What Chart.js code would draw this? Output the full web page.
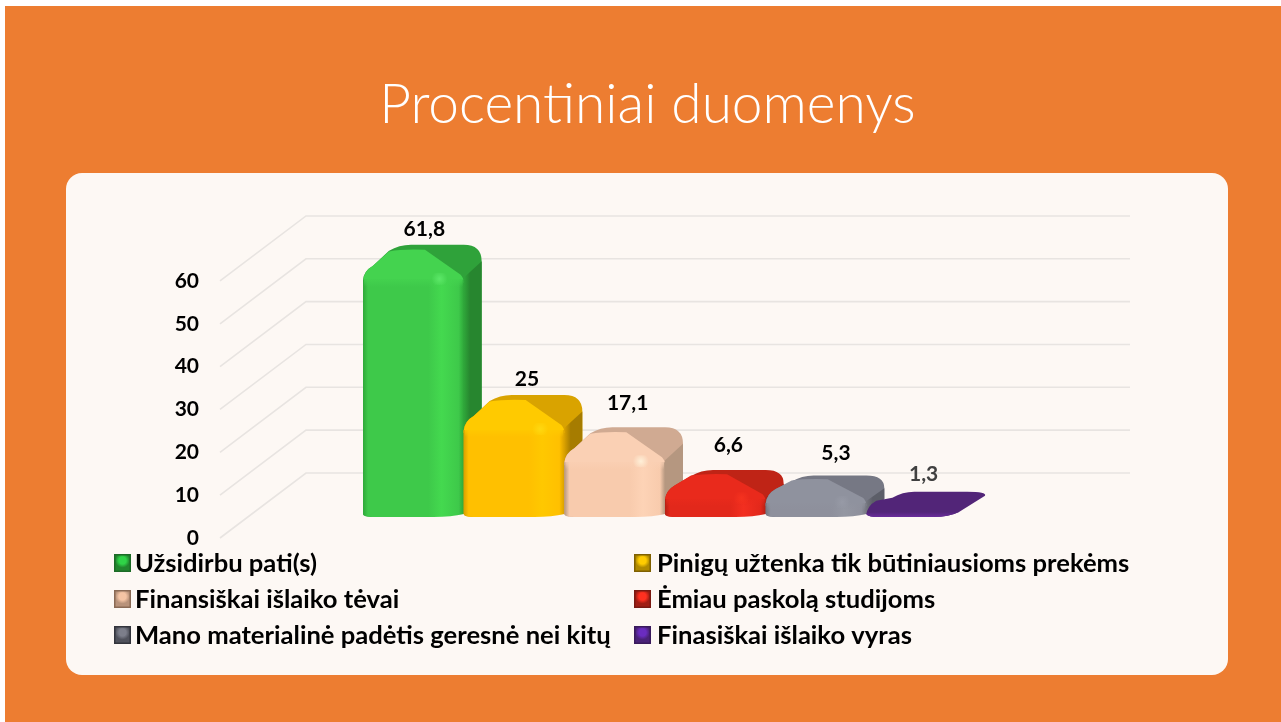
<!DOCTYPE html>
<html lang="lt"><head><meta charset="utf-8">
<script src="https://cdn.jsdelivr.net/npm/chart.js@4"></script>
<style>
html,body{margin:0;padding:0;background:#fff;width:1281px;height:722px;overflow:hidden}
#slide{position:absolute;left:5px;top:6px;right:0;bottom:0;background:#ED7D31}
#card{position:absolute;left:66px;top:173px;width:1162px;height:502px;border-radius:16px;background:#FDF8F4}
#wrap{position:absolute;left:0;top:0;width:1281px;height:722px}
</style></head><body>
<div id="slide"></div><div id="card"></div>
<div id="wrap"><canvas id="c" width="1281" height="722"></canvas></div>
<script>
const titleText = 'Procentiniai duomenys';
const categories = ['Užsidirbu pati(s)','Pinigų užtenka tik būtiniausioms prekėms','Finansiškai išlaiko tėvai','Ėmiau paskolą studijoms','Mano materialinė padėtis geresnė nei kitų','Finasiškai išlaiko vyras'];
const values = [61.8,25,17.1,6.6,5.3,1.3];
const yTicks = [0,10,20,30,40,50,60];

// styles: front, front highlight, lit top, back top, side
const frontColors = ['#3ec94a','#ffc000','#f8cbad','#e2281b','#8e909c','#6a2c9c'];
const shineColors = ['#44d94f','#ffc800','#fdd3b6','#f32f20','#9497a2','#7030a0'];
const litColors   = ['#44d34f','#ffca00','#fad0b4','#e92a1c','#8f929e','#5a2785'];
const backColors  = ['#2fa23a','#d9a300','#d0aa92','#bf2416','#767884','#522578'];
const sideColors  = ['#27862f','#a67c00','#b59780','#9c1c12','#5c5e68','#522578'];
const edgeColors  = ['#2fa83a','#d9a000','#b59780','#b52014','#74767f','#522578'];
const hiColors    = ['#5ce868','#ffd810','#fff0d8','#f5321f','#979aa6','#5f2a90'];
const labelColors = ['#000','#000','#000','#000','#000','#404040'];
const labelNudgeX = [11,13,13,13,20,7];
const labelNudgeY = [-16,-16,-24,-25,-22,-17];
const swatchDark  = ['#1c6b26','#7f6000','#8a6a55','#7a1a12','#33343c','#3a1a5c'];
const swatchLite  = ['#22862e','#b08a00','#b8927a','#a01e14','#50525c','#4a2278'];
const swatchHi    = ['#2fd447','#ffcc00','#f4c4a4','#ff3020','#7c7e8a','#6a2cc0'];

const FONT = 'Lato';
const BASE_DEPTH = 20, BACK_LEFT = 42, BACK_RIGHT = 18;
const WALL_DX = 86, WALL_DY = 65, WALL_RIGHT = 1130, WALL_LEFT = 220;

function roofDrop(base, yb){ return Math.min(33, 14 + 0.28*(base-yb)); }

function draw3D(ctx, el, i){
  const x0 = el.x - el.width/2, x1 = el.x + el.width/2, base = el.base;
  const yb = el.y - BASE_DEPTH;                 // back edge of the top
  const yf = Math.min(yb + roofDrop(base,yb), base-3);  // front edge of the top
  const xbl = x0 + BACK_LEFT, xbr = x1 + BACK_RIGHT;
  const sideBottom = base - 18;
  const midY = yb+(yf-yb)*0.5;
  const low = base - yf < 10;
  ctx.save();

  // whole rear silhouette
  ctx.beginPath();
  ctx.moveTo(x0, yf+2);
  ctx.quadraticCurveTo(x0+1, yf-7, x0+10, yf-12);
  ctx.lineTo(xbl-16, yb+6);
  ctx.quadraticCurveTo(xbl-6, yb, xbl+6, yb);
  ctx.lineTo(xbr-18, yb);
  if (low) {
    ctx.quadraticCurveTo(xbr+2, yb, xbr, yb+4);
    ctx.lineTo(x1-8, base-5);
    ctx.quadraticCurveTo(x1-18, base, x1-34, base);
  } else {
    ctx.quadraticCurveTo(xbr, yb, xbr, midY);
    ctx.lineTo(xbr, Math.max(sideBottom, midY));
    ctx.lineTo(x1, base-3);
    ctx.lineTo(x0+10, base);
  }
  ctx.lineTo(x0+8, base);
  ctx.quadraticCurveTo(x0, base-1, x0, base-3);
  ctx.closePath();
  ctx.fillStyle = backColors[i];
  ctx.fill();

  if (low) {          // nearly flat bar: only a thin lit lip along the front
    const lg = ctx.createLinearGradient(0,base-5,0,base);
    lg.addColorStop(0, backColors[i]);
    lg.addColorStop(1, frontColors[i]);
    ctx.beginPath();
    ctx.moveTo(x0, base-4);
    ctx.quadraticCurveTo(x0+30, base-7, x1-8, base-5);
    ctx.quadraticCurveTo(x1-18, base, x1-34, base);
    ctx.lineTo(x0+8, base);
    ctx.quadraticCurveTo(x0, base-1, x0, base-4);
    ctx.closePath();
    ctx.fillStyle = lg;
    ctx.fill();
    ctx.restore();
    return;
  }

  // side face
  if (sideBottom > midY) {
    ctx.beginPath();
    ctx.moveTo(x1, yf);
    ctx.lineTo(xbr, midY);
    ctx.lineTo(xbr, sideBottom);
    ctx.lineTo(x1, base-3);
    ctx.closePath();
    const sg = ctx.createLinearGradient(x1,0,xbr,0);
    sg.addColorStop(0, edgeColors[i]);
    sg.addColorStop(0.35, sideColors[i]);
    sg.addColorStop(1, sideColors[i]);
    ctx.fillStyle = sg;
    ctx.fill();
  }

  // lit part of the top
  ctx.beginPath();
  ctx.moveTo(x0, yf+3);
  ctx.quadraticCurveTo(x0+1, yf-7, x0+10, yf-12);
  ctx.lineTo(x0+26, yb+(yf-yb)*0.2);
  ctx.quadraticCurveTo(x0+40, yb+(yf-yb)*0.12, x0+62, yb+(yf-yb)*0.15);
  ctx.lineTo(x1-3, yf-3);
  ctx.quadraticCurveTo(x1, yf, x1, yf+5);
  ctx.lineTo(x0, yf+5);
  ctx.closePath();
  ctx.fillStyle = litColors[i];
  ctx.fill();

  // front face
  ctx.beginPath();
  ctx.moveTo(x0, yf+2);
  ctx.lineTo(x1, yf+2);
  ctx.lineTo(x1, base-3);
  ctx.quadraticCurveTo(x1-12, base, x1-30, base);
  ctx.lineTo(x0+10, base);
  ctx.quadraticCurveTo(x0, base, x0, base-3);
  ctx.closePath();
  const fg = ctx.createLinearGradient(x0,0,x1,0);
  fg.addColorStop(0, edgeColors[i]);
  fg.addColorStop(0.05, frontColors[i]);
  fg.addColorStop(0.65, frontColors[i]);
  fg.addColorStop(0.78, shineColors[i]);
  fg.addColorStop(0.95, frontColors[i]);
  fg.addColorStop(1, edgeColors[i]);
  ctx.fillStyle = fg;
  ctx.fill();

  // rounded band from top to front, and the corner glint
  const bg = ctx.createLinearGradient(0,yf,0,yf+9);
  bg.addColorStop(0, litColors[i]);
  bg.addColorStop(1, litColors[i]+'00');
  ctx.fillStyle = bg;
  ctx.fillRect(x0+1, yf+2, el.width-2, Math.min(8, base-yf-4));
  const hx = x0 + el.width*0.76, hy = yf+1;
  const hg = ctx.createRadialGradient(hx,hy,0,hx,hy,8);
  hg.addColorStop(0, hiColors[i]);
  hg.addColorStop(1, hiColors[i]+'00');
  ctx.fillStyle = hg;
  ctx.fillRect(hx-9, hy-6, 18, 12);
  ctx.restore();
}

const bar3D = {
  id:'bar3D',
  afterDatasetsUpdate(chart){
    chart.getDatasetMeta(0).data.forEach((el,i)=>{ el.draw = function(ctx){ draw3D(ctx,this,i); }; });
  },
  beforeDatasetsDraw(chart){
    const ctx = chart.ctx, s = chart.scales.y;
    ctx.save();
    ctx.strokeStyle = '#E8E4E1'; ctx.lineWidth = 1.6;
    s.ticks.forEach(t=>{
      const y = s.getPixelForValue(t.value);
      ctx.beginPath();
      ctx.moveTo(WALL_LEFT, y);
      ctx.lineTo(WALL_LEFT+WALL_DX, y-WALL_DY);
      ctx.lineTo(WALL_RIGHT, y-WALL_DY);
      ctx.stroke();
    });
    ctx.restore();
  },
  afterDatasetsDraw(chart){
    const ctx = chart.ctx;
    ctx.save();
    ctx.font = 'bold 21px '+FONT;
    ctx.textAlign = 'center'; ctx.textBaseline = 'middle';
    chart.getDatasetMeta(0).data.forEach((el,i)=>{
      ctx.fillStyle = labelColors[i];
      ctx.fillText(String(values[i]).replace('.',','), el.x+labelNudgeX[i], el.y-BASE_DEPTH+labelNudgeY[i]);
    });
    ctx.restore();
    drawLegend(ctx);
  }
};

function drawSwatch(ctx,x,y,w,h,i){
  ctx.save();
  ctx.fillStyle = swatchDark[i]; ctx.fillRect(x,y,w,h);
  ctx.fillStyle = swatchLite[i]; ctx.fillRect(x+1.5,y+1.5,w-3,h-3);
  const cx=x+w/2, cy=y+h*0.36;
  const g=ctx.createRadialGradient(cx,cy,0,cx,cy,w*0.42);
  g.addColorStop(0,swatchHi[i]); g.addColorStop(0.5,swatchHi[i]); g.addColorStop(1,swatchHi[i]+'00');
  ctx.fillStyle=g; ctx.fillRect(x+1.5,y+1.5,w-3,h-3);
  ctx.restore();
}

function drawLegend(ctx){
  const colX=[114,634], textX=[135,657], rowY=[563,599,635], textY=[564,600,636];
  ctx.save();
  ctx.font = 'bold 25.6px '+FONT;
  ctx.textAlign='left'; ctx.textBaseline='middle'; ctx.fillStyle='#000';
  categories.forEach((c,i)=>{
    const col=i%2, row=Math.floor(i/2);
    drawSwatch(ctx,colX[col],rowY[row]-9,17,18,i);
    ctx.fillText(c,textX[col],textY[row]);
  });
  ctx.restore();
}

new Chart(document.getElementById('c'),{
  type:'bar',
  plugins:[bar3D],
  data:{labels:categories,datasets:[{data:values,yAxisID:'bars',backgroundColor:frontColors,barPercentage:1,categoryPercentage:1,clip:false}]},
  options:{
    responsive:false,animation:false,
    layout:{padding:{left:14,right:0,top:0,bottom:184}},
    plugins:{
      legend:{display:false},tooltip:{enabled:false},
      title:{display:true,text:titleText,color:'#fff',
        font:{family:FONT,weight:'300',size:55,lineHeight:1.2},
        padding:{top:72,bottom:62}}
    },
    scales:{
      x:{display:false},
      y:{position:'left',min:0,max:78.9,
        grid:{display:false,drawTicks:false},border:{display:false},
        afterBuildTicks(s){s.ticks=yTicks.map(v=>({value:v}));},
        afterFit(s){s.width=349;},
        ticks:{padding:164,color:'#000',font:{family:FONT,weight:'bold',size:21},autoSkip:false}
      },
      bars:{position:'right',min:-5.147,max:77.7,
        grid:{display:false,drawTicks:false},border:{display:false},
        ticks:{display:false},afterFit(s){s.width=314;}
      }
    }
  }
});
</script></body></html>
